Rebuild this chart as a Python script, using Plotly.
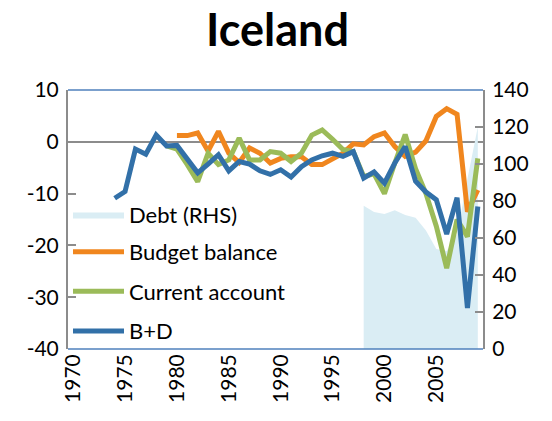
import plotly.graph_objects as go

years = list(range(1970, 2010))

budget_years = list(range(1980, 2010))
budget_balance = [1.2, 1.2, 1.7, -1.8, 2.0, -2.2, -4.0, -1.2, -2.2, -4.1,
                  -3.2, -2.9, -2.9, -4.4, -4.4, -3.4, -2.2, -0.4, -0.6, 1.0,
                  1.7, -0.9, -2.8, -2.0, 0.2, 4.9, 6.4, 5.3, -13.5, -9.3]

ca_years = list(range(1979, 2010))
current_account = [-0.8, -1.4, -4.4, -7.7, -2.2, -4.4, -3.5, 0.7, -3.5, -3.5,
                   -1.9, -2.2, -3.8, -2.2, 1.3, 2.3, 0.5, -1.5, -1.9, -6.7,
                   -6.2, -10.0, -4.1, 1.4, -5.2, -10.0, -16.3, -24.4, -15.0, -18.3,
                   -3.2]

bd_years = list(range(1974, 2010))
b_plus_d = [-10.9, -9.6, -1.4, -2.4, 1.3, -0.8, -0.7, -3.3, -6.0, -4.3,
            -2.5, -5.6, -3.8, -4.3, -5.6, -6.3, -5.4, -6.8, -4.8, -3.5,
            -2.7, -2.2, -2.8, -1.9, -7.0, -5.8, -8.0, -4.1, -0.9, -7.6,
            -9.7, -11.2, -17.8, -10.8, -32.1, -12.5]

debt_years = list(range(1998, 2010))
debt = [77.5, 74, 73, 75, 72.5, 71, 64, 54, 53, 62, 92, 120]

xticks = list(range(1970, 2010, 5))
left_ticks = [-40, -30, -20, -10, 0, 10]
left_tick_labels = ["-40", "-30", "-20", "-10", "0", "10"]
right_ticks = [0, 20, 40, 60, 80, 100, 120, 140]

FONT = "Lato"
C_DEBT = "#DAEDF4"
C_BUD = "#F0861E"
C_CA = "#9BBB59"
C_BD = "#3270A8"

fig = go.Figure()
fig.add_trace(go.Scatter(x=debt_years, y=debt, name="Debt (RHS)", mode="lines",
                         line=dict(width=0, color=C_DEBT), fill="tozeroy",
                         fillcolor=C_DEBT, yaxis="y", legend="legend"))
fig.add_trace(go.Scatter(x=budget_years, y=budget_balance, name="Budget balance",
                         mode="lines", line=dict(width=5, color=C_BUD),
                         yaxis="y2", legendgroup="b", legend="legend2"))
fig.add_trace(go.Scatter(x=ca_years, y=current_account, name="Current account",
                         mode="lines", line=dict(width=5, color=C_CA),
                         yaxis="y2", legendgroup="c", legend="legend2"))
fig.add_trace(go.Scatter(x=bd_years, y=b_plus_d, name="B+D",
                         mode="lines", line=dict(width=5, color=C_BD),
                         yaxis="y2", legendgroup="d", legend="legend2"))

axis_common = dict(showline=True, linecolor="#8C8C8C", linewidth=2,
                   ticks="inside", ticklen=8, tickwidth=2, tickcolor="#8C8C8C",
                   showgrid=False, automargin=False, ticklabelstandoff=3,
                   tickfont=dict(family=FONT, size=21, color="black"))

legend_common = dict(xanchor="left", yanchor="top", bgcolor="rgba(0,0,0,0)",
                     font=dict(family=FONT, size=22, color="black"), itemwidth=51)

fig.update_layout(
    width=552, height=421,
    margin=dict(l=68, r=69, t=90, b=72, autoexpand=False),
    paper_bgcolor="white", plot_bgcolor="white",
    font=dict(family=FONT, color="black"),
    title=dict(text="<b>Iceland</b>", x=0.505, xref="paper", y=0.928, yanchor="middle",
               font=dict(family=FONT, size=45, color="black")),
    xaxis=dict(range=[1969.5, 2009.5], tickvals=xticks, tickangle=-90,
               showgrid=False, showline=False, ticks="", zeroline=False,
               automargin=False,
               tickfont=dict(family=FONT, size=21, color="black")),
    yaxis=dict(range=[0, 140], tickvals=right_ticks, side="right", zeroline=False,
               **axis_common),
    yaxis2=dict(range=[-40, 10], tickvals=left_ticks, ticktext=left_tick_labels,
                side="left", overlaying="y",
                zeroline=True, zerolinecolor="#8C8C8C", zerolinewidth=2,
                **axis_common),
    showlegend=True,
    legend=dict(x=0.0, y=0.600, **legend_common),
    legend2=dict(x=0.0, y=0.456, traceorder="grouped", tracegroupgap=8,
                 **legend_common),
    shapes=[
        dict(type="line", xref="paper", yref="paper", x0=0, x1=1, y0=1, y1=1,
             line=dict(color="#4F81BD", width=1.5)),
        dict(type="line", xref="paper", yref="paper", x0=0, x1=1, y0=0, y1=0,
             line=dict(color="#4F81BD", width=1.5)),
    ],
)

fig.write_html("out.html", post_script="document.body.style.margin='0';",
               config={"displayModeBar": False})
